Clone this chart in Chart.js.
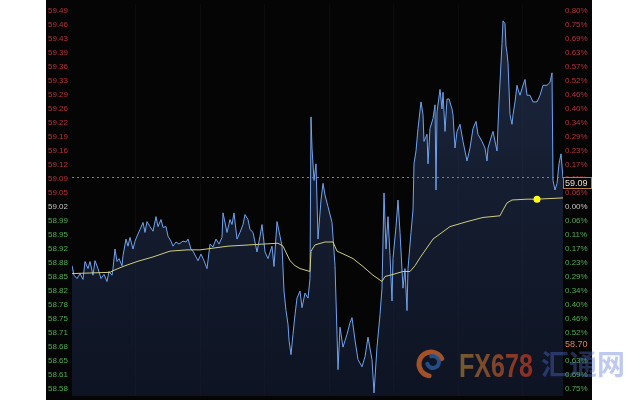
<!DOCTYPE html>
<html>
<head>
<meta charset="utf-8">
<script src="https://cdn.jsdelivr.net/npm/chart.js@4"></script>
<style>
  html, body { margin: 0; padding: 0; background: #fff; }
</style>
</head>
<body>
<canvas id="chart" width="640" height="400"></canvas>
<script>
// axis labels, top to bottom
const priceTickLabels = ['59.49','59.46','59.43','59.39','59.36','59.33','59.29','59.26','59.22','59.19','59.16','59.12','59.09','59.05',
  '59.02','58.99','58.95','58.92','58.88','58.85','58.82','58.78','58.75','58.71','58.68','58.65','58.61','58.58'];
const pctTickLabels = ['0.80%','0.75%','0.69%','0.63%','0.57%','0.52%','0.46%','0.40%','0.34%','0.29%','0.23%','0.17%','0.11%','0.06%',
  '0.00%','0.06%','0.11%','0.17%','0.23%','0.29%','0.34%','0.40%','0.46%','0.52%','0.58%','0.63%','0.69%','0.75%'];
const zeroIndex = 14;

// vertical grid positions (minutes)
const gridMinutes = [63, 128, 192, 257, 321, 386, 450];

// price ticks (minutes from session start / price)
const priceMinutes = [
  0, 2, 5, 8, 11, 13, 16, 18, 21, 23,
  26, 29, 32, 35, 37, 40, 41, 43, 45, 47,
  50, 51, 54, 56, 58, 61, 63, 65, 68, 71,
  73, 75, 78, 81, 84, 86, 89, 91, 94, 96,
  99, 101, 104, 107, 111, 114, 116, 119, 121, 124,
  126, 129, 132, 135, 138, 141, 144, 147, 150, 151,
  155, 158, 160, 162, 165, 168, 171, 173, 176, 178,
  181, 185, 188, 190, 193, 196, 200, 202, 205, 208,
  210, 212, 214, 216, 217, 219, 221, 223, 225, 228,
  230, 233, 236, 238, 239, 240, 242, 244, 246, 249,
  251, 253, 256, 260, 263, 265, 266, 268, 271, 275,
  278, 280, 283, 286, 290, 293, 296, 300, 302, 305,
  308, 310, 312, 314, 316, 318, 320, 321, 324, 326,
  328, 331, 333, 335, 336, 339, 341, 342, 344, 346,
  349, 351, 352, 355, 356, 358, 361, 363, 364, 365,
  368, 370, 371, 373, 375, 377, 380, 381, 383, 385,
  388, 391, 395, 398, 401, 404, 406, 410, 413, 415,
  416, 420, 421, 425, 427, 430, 431, 433, 434, 435,
  436, 438, 440, 441, 443, 445, 446, 448, 451, 453,
  455, 458, 461, 465, 468, 471, 475, 478, 480, 481,
  483, 485, 487, 489, 491
];
const prices = [
  58.877, 58.854, 58.846, 58.858, 58.844, 58.887, 58.870, 58.887, 58.854, 58.889,
  58.870, 58.846, 58.856, 58.839, 58.863, 58.854, 58.870, 58.917, 58.887, 58.894,
  58.877, 58.901, 58.941, 58.924, 58.945, 58.917, 58.936, 58.948, 58.964, 58.981,
  58.957, 58.983, 58.971, 58.960, 58.995, 58.971, 58.988, 58.969, 58.971, 58.948,
  58.936, 58.924, 58.934, 58.929, 58.936, 58.934, 58.941, 58.917, 58.912, 58.898,
  58.889, 58.905, 58.889, 58.870, 58.929, 58.922, 58.941, 58.929, 58.945, 59.004,
  58.957, 58.988, 58.976, 59.004, 58.941, 58.957, 58.976, 59.000, 58.988, 58.964,
  58.957, 58.910, 58.948, 58.976, 58.910, 58.894, 58.924, 58.875, 58.983, 58.948,
  58.924, 58.816, 58.769, 58.736, 58.698, 58.663, 58.712, 58.759, 58.799, 58.816,
  58.776, 58.811, 58.799, 58.846, 59.235, 59.160, 59.082, 59.122, 58.941, 59.035,
  59.075, 59.047, 59.019, 58.981, 58.877, 58.712, 58.627, 58.729, 58.681, 58.712,
  58.740, 58.752, 58.698, 58.651, 58.634, 58.658, 58.705, 58.651, 58.571, 58.681,
  58.759, 58.823, 59.052, 58.917, 58.995, 58.901, 58.792, 58.894, 58.971, 59.035,
  58.957, 58.823, 58.870, 58.769, 58.870, 58.957, 59.011, 59.122, 59.153, 59.207,
  59.271, 59.240, 59.176, 59.193, 59.122, 59.207, 59.231, 59.264, 59.059, 59.247,
  59.301, 59.254, 59.294, 59.200, 59.278, 59.278, 59.254, 59.240, 59.160, 59.200,
  59.217, 59.176, 59.129, 59.160, 59.207, 59.224, 59.193, 59.176, 59.160, 59.129,
  59.160, 59.193, 59.200, 59.153, 59.271, 59.412, 59.466, 59.459, 59.405, 59.389,
  59.365, 59.240, 59.217, 59.240, 59.271, 59.311, 59.301, 59.287, 59.311, 59.325,
  59.287, 59.287, 59.271, 59.271, 59.287, 59.311, 59.311, 59.318, 59.341, 59.082,
  59.059, 59.075, 59.122, 59.146, 59.087
];

// average price line
const avgMinutes = [0, 38, 41, 51, 65, 81, 98, 115, 128, 156, 206, 211, 218, 223, 228, 238, 239, 243, 253, 261,
  265, 275, 281, 291, 301, 310, 313, 321, 331, 338, 343, 348, 361, 378, 395, 411, 428, 431, 435, 440,
  455, 465, 491];
const avgPrices = [58.858, 58.861, 58.865, 58.875, 58.887, 58.898, 58.912, 58.915, 58.915, 58.924,
  58.931, 58.924, 58.889, 58.877, 58.870, 58.863, 58.912, 58.927, 58.934, 58.934,
  58.912, 58.901, 58.894, 58.875, 58.854, 58.839, 58.851, 58.856, 58.863, 58.863,
  58.877, 58.896, 58.941, 58.971, 58.983, 58.993, 58.997, 59.011, 59.028, 59.035,
  59.037, 59.037, 59.040];

const dotMinute = 465;
const dotPrice = 59.037;
const lastPrice = 59.09;
const lowMark = 58.70;

const yMin = 58.5635;
const yMax = 59.5065;
const tickValues = priceTickLabels.map((_, i) => 59.49 - i * (0.91 / 27));

const RED = '#b8333c';
const GREEN = '#4fae52';
const GREY = '#c4c4c4';
const FONT = { family: "'Liberation Sans', Arial, sans-serif", size: 8 };

function tickColor(ctx) {
  if (ctx.index < zeroIndex) return RED;
  if (ctx.index === zeroIndex) return GREY;
  return GREEN;
}

function setTicks(scale) {
  scale.ticks = tickValues.map(v => ({ value: v }));
}

const panelPlugin = {
  id: 'panel',
  beforeDraw(chart) {
    const ctx = chart.ctx;
    const left = chart.scales.y.left - 2;
    const right = chart.scales.y2.right;
    ctx.save();
    ctx.fillStyle = '#ffffff';
    ctx.fillRect(0, 0, chart.width, chart.height);
    ctx.fillStyle = '#050505';
    ctx.fillRect(left, 0, right - left, chart.height);
    ctx.restore();
  },
  afterDatasetsDraw(chart) {
    const ctx = chart.ctx;
    const area = chart.chartArea;
    const yy = Math.round(chart.scales.y.getPixelForValue(lastPrice)) + 0.5;
    ctx.save();
    ctx.strokeStyle = '#b8743c';
    ctx.lineWidth = 1;
    ctx.setLineDash([2, 3]);
    ctx.beginPath();
    ctx.moveTo(area.left, yy);
    ctx.lineTo(area.right, yy);
    ctx.stroke();
    ctx.restore();
  },
  afterDraw(chart) {
    const ctx = chart.ctx;
    const area = chart.chartArea;
    const ys = chart.scales.y;
    const boxW = chart.scales.y2.right - area.right;

    // last price box
    let top = Math.round(ys.getPixelForValue(lastPrice)) + 0.5;
    ctx.save();
    ctx.fillStyle = '#050505';
    ctx.fillRect(area.right, top, boxW, 11);
    ctx.strokeStyle = '#b87a48';
    ctx.strokeRect(area.right + 0.5, top, boxW - 1, 11);
    ctx.font = "9px 'Liberation Sans', Arial, sans-serif";
    ctx.textBaseline = 'middle';
    ctx.fillStyle = '#e6ddd0';
    ctx.fillText(lastPrice.toFixed(2), area.right + 2, top + 6);

    // low mark label
    top = Math.round(ys.getPixelForValue(lowMark));
    ctx.fillStyle = '#050505';
    ctx.fillRect(area.right + 1, top, boxW - 2, 11);
    ctx.fillStyle = '#e0844a';
    ctx.fillText(lowMark.toFixed(2), area.right + 2, top + 6);

    // watermark
    ctx.globalAlpha = 0.8;
    ctx.lineCap = 'round';
    ctx.strokeStyle = '#c8602a';
    ctx.lineWidth = 5;
    ctx.beginPath();
    ctx.arc(431, 364, 12, 0.55 * Math.PI, 1.85 * Math.PI);
    ctx.stroke();
    ctx.strokeStyle = '#2c5a9c';
    ctx.lineWidth = 4;
    ctx.beginPath();
    ctx.arc(433, 362, 6, -0.6 * Math.PI, 0.9 * Math.PI);
    ctx.stroke();

    ctx.save();
    ctx.translate(459, 377);
    ctx.scale(0.76, 1);
    const grad = ctx.createLinearGradient(0, 0, 97, 0);
    grad.addColorStop(0, '#8e6c32');
    grad.addColorStop(1, '#ae3320');
    ctx.fillStyle = grad;
    ctx.font = "bold 33px 'Liberation Sans', Arial, sans-serif";
    ctx.textBaseline = 'alphabetic';
    ctx.fillText('FX678', 0, 0);
    ctx.restore();

    ctx.globalAlpha = 0.38;
    ctx.fillStyle = '#5470d8';
    ctx.font = "bold 28px 'Noto Sans CJK SC', sans-serif";
    ctx.textBaseline = 'middle';
    ctx.fillText('汇通网', 541, 364);
    ctx.restore();
  }
};

const ctx = document.getElementById('chart').getContext('2d');
new Chart(ctx, {
  type: 'line',
  data: {
    datasets: [
      {
        label: 'dot',
        type: 'scatter',
        data: [{ x: dotMinute, y: dotPrice }],
        pointRadius: 3.5,
        pointBackgroundColor: '#ffff1a',
        pointBorderWidth: 0
      },
      {
        label: 'avg',
        data: avgMinutes.map((m, i) => ({ x: m, y: avgPrices[i] })),
        borderColor: '#cfcd80',
        borderWidth: 1,
        pointRadius: 0,
        fill: false
      },
      {
        label: 'price',
        data: priceMinutes.map((m, i) => ({ x: m, y: prices[i] })),
        borderColor: '#6fa3ef',
        borderWidth: 1,
        pointRadius: 0,
        fill: 'start',
        backgroundColor: (c) => {
          const area = c.chart.chartArea;
          if (!area) return 'rgba(30,45,80,0.5)';
          const g = c.chart.ctx.createLinearGradient(0, area.top, 0, area.bottom);
          g.addColorStop(0, 'rgba(44,62,100,0.6)');
          g.addColorStop(1, 'rgba(22,34,64,0.5)');
          return g;
        }
      }
    ]
  },
  options: {
    responsive: false,
    animation: false,
    layout: { padding: { left: 48, right: 48, top: 0, bottom: 0 } },
    plugins: {
      legend: { display: false },
      tooltip: { enabled: false }
    },
    scales: {
      x: {
        type: 'linear',
        min: 0,
        max: 491,
        grid: { color: 'rgba(130,140,170,0.06)', drawTicks: false },
        border: { display: false },
        ticks: { display: false },
        afterBuildTicks: (scale) => { scale.ticks = gridMinutes.map(v => ({ value: v })); },
        afterFit: (scale) => { scale.height = 0; }
      },
      y: {
        position: 'left',
        min: yMin,
        max: yMax,
        bounds: 'data',
        grid: { display: false, drawTicks: false },
        border: { display: false },
        afterBuildTicks: setTicks,
        afterFit: (scale) => { scale.width = 24; scale.paddingTop = 0; scale.paddingBottom = 0; },
        ticks: {
          autoSkip: false,
          crossAlign: 'far',
          padding: 0,
          font: FONT,
          color: tickColor,
          callback: (value, index) => priceTickLabels[index]
        }
      },
      y2: {
        position: 'right',
        min: yMin,
        max: yMax,
        bounds: 'data',
        grid: { display: false, drawTicks: false },
        border: { display: false },
        afterBuildTicks: setTicks,
        afterFit: (scale) => { scale.width = 29; scale.paddingTop = 0; scale.paddingBottom = 0; },
        ticks: {
          autoSkip: false,
          padding: 2,
          font: FONT,
          color: tickColor,
          callback: (value, index) => pctTickLabels[index]
        }
      }
    }
  },
  plugins: [panelPlugin]
});
</script>
</body>
</html>
